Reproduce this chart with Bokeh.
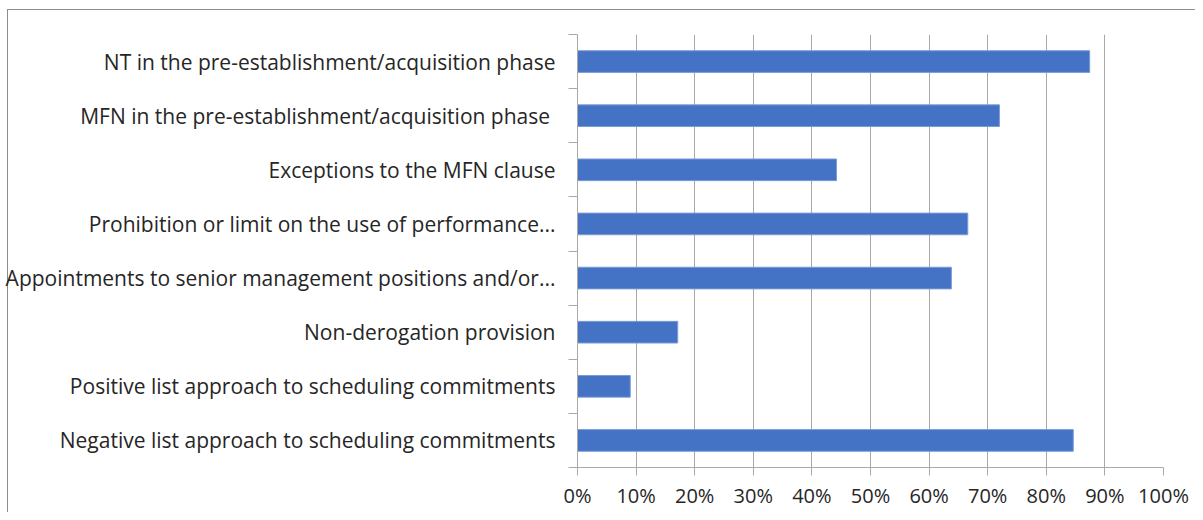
from bokeh.plotting import figure
from bokeh.models import Range1d, FixedTicker, NumeralTickFormatter
from bokeh.embed import file_html
from bokeh.resources import INLINE

categories = [
    "NT in the pre-establishment/acquisition phase",
    "MFN  in the pre-establishment/acquisition phase",
    "Exceptions to the MFN clause",
    "Prohibition or limit on the use of performance...",
    "Appointments to senior management positions and/or...",
    "Non-derogation provision",
    "Positive list approach to scheduling commitments",
    "Negative list approach to scheduling commitments",
]
values = [0.874, 0.72, 0.442, 0.666, 0.638, 0.171, 0.09, 0.846]
x_ticks = [0, 0.1, 0.2, 0.3, 0.4, 0.5, 0.6, 0.7, 0.8, 0.9, 1.0]

n = len(categories)
ypos = [n - i - 0.5 for i in range(n)]
boundaries = list(range(n + 1))

FONT = "Open Sans"
GRID = "#a9a9a9"
TEXT = "#262626"
EDGE = "#8c8c8c"

p = figure(width=1195, height=512, output_backend="svg", toolbar_location=None,
           x_range=Range1d(0, 1), y_range=Range1d(0, n))
p.min_border_left = 577
p.min_border_right = 32
p.min_border_top = 34
p.min_border_bottom = 45
p.outline_line_color = None
p.background_fill_color = None
p.border_fill_color = None
p.styles = {
    "background": (f"linear-gradient({EDGE},{EDGE}) 7px 9px / 1px 100% no-repeat, "
                   f"linear-gradient({EDGE},{EDGE}) 7px 9px / 100% 1px no-repeat, white"),
}

p.hbar(y=ypos, right=values, left=0, height=0.4, fill_color="#4472C4",
       line_color="#7a9bd6", line_width=1)

p.xaxis.ticker = FixedTicker(ticks=x_ticks, minor_ticks=[])
p.xaxis.formatter = NumeralTickFormatter(format="0%")
p.xaxis.axis_line_color = GRID
p.xaxis.major_tick_line_color = GRID
p.xaxis.major_tick_out = 8
p.xaxis.major_tick_in = 0
p.xaxis.minor_tick_line_color = None
p.xaxis.major_label_text_font = FONT
p.xaxis.major_label_text_font_size = "20px"
p.xaxis.major_label_text_color = TEXT
p.xaxis.major_label_standoff = 6

label_map = {ypos[i]: categories[i] for i in range(n)}
p.yaxis.ticker = FixedTicker(ticks=ypos, minor_ticks=boundaries)
p.yaxis.major_label_overrides = label_map
p.yaxis.axis_line_color = GRID
p.yaxis.major_tick_line_color = None
p.yaxis.minor_tick_line_color = GRID
p.yaxis.minor_tick_out = 9
p.yaxis.minor_tick_in = 0
p.yaxis.major_label_text_font = FONT
p.yaxis.major_label_text_font_size = "21px"
p.yaxis.major_label_text_color = TEXT
p.yaxis.major_label_standoff = 13

p.xgrid.grid_line_color = GRID
p.xgrid.grid_line_width = 1
p.ygrid.grid_line_color = None

open("out.html", "w").write(file_html(p, INLINE))
